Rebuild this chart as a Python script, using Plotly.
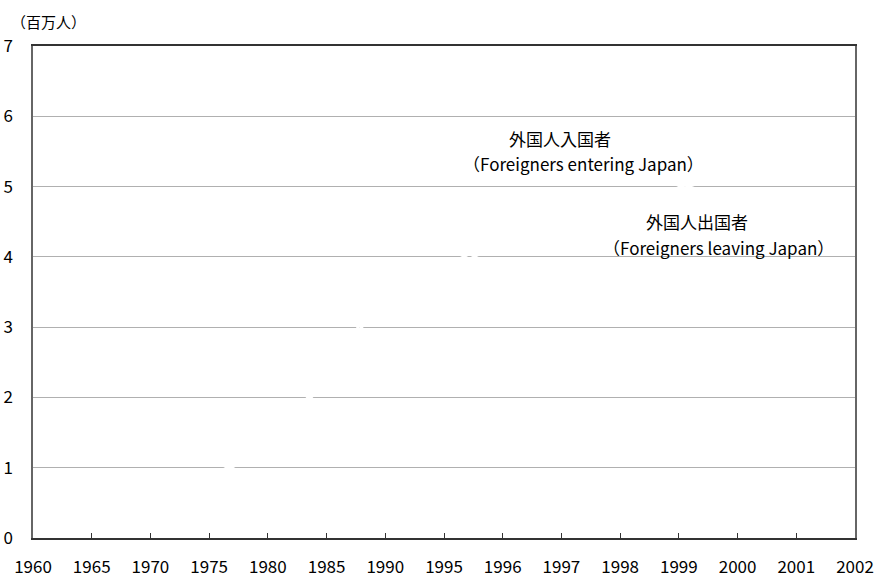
import plotly.graph_objects as go

years = ["1960", "1965", "1970", "1975", "1980", "1985", "1990", "1995",
         "1996", "1997", "1998", "1999", "2000", "2001", "2002"]
entering = [0.19, 0.37, 0.78, 0.85, 1.35, 2.30, 3.60, 3.85,
            4.30, 4.67, 4.56, 4.99, 5.30, 5.35, 5.95]
leaving = [0.12, 0.35, 0.75, 0.82, 1.30, 2.25, 3.50, 3.77,
           4.22, 4.60, 4.50, 4.95, 5.25, 5.28, 5.80]
y_ticks = [0, 1, 2, 3, 4, 5, 6, 7]

FONT = "Noto Sans CJK JP"
L, R, T, B = 33, 22, 46, 40
PW, PH = 877 - L - R, 578 - T - B


def px(x):
    return (x - L) / PW


def py(y):
    return (578 - B - y) / PH


fig = go.Figure()
fig.add_trace(go.Scatter(x=years, y=entering, mode="lines",
                         line=dict(color="#ffffff", width=3),
                         name="外国人入国者", showlegend=False))
fig.add_trace(go.Scatter(x=years, y=leaving, mode="lines",
                         line=dict(color="#ffffff", width=3),
                         name="外国人出国者", showlegend=False))

fig.update_layout(
    width=877, height=578,
    margin=dict(l=L, r=R, t=T, b=B),
    paper_bgcolor="white", plot_bgcolor="white",
    font=dict(family=FONT, size=14, color="#000000"),
    xaxis=dict(
        type="category", categoryorder="array", categoryarray=years,
        range=[0, len(years) - 1],
        showgrid=False, zeroline=False,
        showline=True, linecolor="#333333", linewidth=1.5, mirror=True,
        ticks="inside", ticklen=5, tickcolor="#333333", tickwidth=1,
        tickfont=dict(family=FONT, size=17, color="#000000"),
        ticklabelstandoff=13,
        automargin=False,
        layer="below traces",
    ),
    yaxis=dict(
        range=[0, 7], tickvals=y_ticks,
        showgrid=True, gridcolor="#b0b0b0", gridwidth=1,
        zeroline=False,
        showline=True, linecolor="#666666", linewidth=1.5, mirror=True,
        ticks="",
        tickfont=dict(family=FONT, size=17, color="#000000"),
        ticklabelstandoff=15,
        automargin=False,
        layer="below traces",
    ),
    annotations=[
        dict(text="（百万人）", xref="paper", yref="paper", x=px(9), y=py(22),
             xanchor="left", yanchor="middle", showarrow=False,
             font=dict(family=FONT, size=15, color="#000000")),
        dict(text="外国人入国者", xref="paper", yref="paper",
             x=px(507), y=py(139),
             xanchor="left", yanchor="middle", showarrow=False,
             font=dict(family=FONT, size=17, color="#000000")),
        dict(text="（Foreigners entering Japan）", xref="paper", yref="paper",
             x=px(461), y=py(163),
             xanchor="left", yanchor="middle", showarrow=False,
             font=dict(family=FONT, size=17, color="#000000")),
        dict(text="外国人出国者", xref="paper", yref="paper",
             x=px(644), y=py(221),
             xanchor="left", yanchor="middle", showarrow=False,
             font=dict(family=FONT, size=17, color="#000000")),
        dict(text="（Foreigners leaving Japan）", xref="paper", yref="paper",
             x=px(601), y=py(247),
             xanchor="left", yanchor="middle", showarrow=False,
             font=dict(family=FONT, size=17, color="#000000")),
    ],
)

fig.write_html(
    "out.html",
    config={"displayModeBar": False},
    post_script="document.body.style.margin='0';document.body.style.padding='0';",
)
